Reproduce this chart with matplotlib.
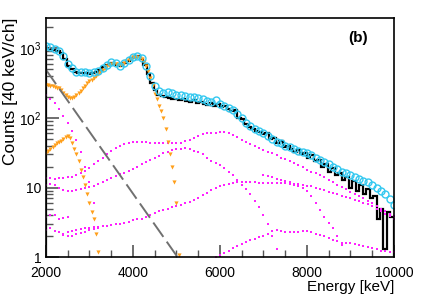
import numpy as np
import matplotlib.pyplot as plt
from matplotlib.ticker import FixedLocator, FixedFormatter, NullFormatter

# total fit (cyan circles), 100 keV steps from 2000
e_fit = np.arange(2000, 10001, 100)
fit = [1090, 1050, 960, 920, 780, 600, 520, 460, 450, 450,
       440, 450, 470, 520, 580, 630, 610, 560, 620, 680,
       760, 780, 730, 560, 400, 290, 240, 230, 235, 225,
       215, 210, 205, 200, 198, 195, 185, 175, 172, 178,
       160, 150, 140, 128, 115, 100, 85, 76, 70, 66,
       60, 55, 50, 45, 43, 40, 38, 36, 34, 32,
       31, 29, 27, 25, 23, 21.5, 20, 18.5, 17, 16,
       15, 14, 13.5, 12.5, 12, 11, 10, 9, 8, 6.8, 5.6]

# measured spectrum (black), 80 keV bins
e_edges = np.arange(2000, 10001, 80)
data = [1000, 990, 940, 910, 840, 700, 560, 500, 460, 445,
        440, 445, 430, 445, 460, 490, 540, 580, 620, 600,
        570, 560, 610, 660, 730, 760, 770, 700, 580, 430,
        320, 250, 215, 205, 200, 195, 190, 185, 180, 185,
        175, 170, 180, 165, 170, 160, 155, 165, 150, 160,
        145, 150, 135, 125, 130, 100, 95, 82, 75, 70,
        66, 62, 58, 60, 50, 52, 44, 46, 38, 40,
        36, 33, 35, 30, 31, 27, 29, 24, 25, 20,
        22, 17, 19, 15, 16, 13, 14, 10, 12.5, 9,
        11, 8, 9.5, 7, 7.5, 3.5, 5, 1.3, 4.5, 3.8]

# orange components
e_o1 = np.arange(2000, 5051, 50)
o1 = [295, 292, 290, 285, 280, 272, 265, 248, 230, 215,
      200, 196, 195, 200, 210, 225, 240, 265, 290, 315,
      340, 355, 370, 395, 420, 455, 490, 525, 560, 575,
      590, 595, 600, 590, 580, 600, 620, 650, 680, 710,
      740, 750, 760, 730, 700, 630, 560, 470, 380, 300,
      220, 185, 150, 125, 100, 70, 45, 30, 20, 12, 6, 1.1]
e_o2 = np.arange(2000, 3201, 50)
o2 = [31, 34, 36, 38, 41, 43, 45, 47, 50, 53,
      56, 52, 43, 36, 30, 24, 18, 14, 11, 8,
      6, 4.5, 3.5, 2.2, 1.2]

# magenta components
e_ma = np.arange(2000, 3101, 100)
ma = [213, 190, 162, 135, 108, 85, 65, 48, 33, 20, 12, 6]

e_mb = np.arange(2000, 10001, 100)
mb = [13.6, 13.6, 13.5, 13.6, 13.8, 14, 14.3, 15, 16, 17.5,
      19, 21.5, 24, 27, 30, 33.5, 37, 40, 42, 44,
      45, 45.5, 45.5, 45, 44, 43.5, 43, 43, 43, 43,
      43.5, 44, 46, 49, 52, 56, 59, 61, 61, 61,
      62, 62, 61, 57, 53, 49, 45, 42, 39, 37,
      35, 33, 31, 29, 27, 25.5, 24, 22.5, 21, 19.5,
      18, 17, 16, 15, 14, 13, 12, 11, 10.2, 9.5,
      8.8, 8.2, 7.6, 7, 6.5, 6, 5.5, 5, 4.6, 4.2, 3.9]

e_mc = np.arange(2000, 7301, 100)
mc = [10.9, 11.4, 11, 10, 9.3, 9, 9.1, 9.2, 9.5, 9.8,
      10.2, 10.6, 11.2, 12, 12.8, 13.8, 14.9, 15.6, 16.5, 17.5,
      18.8, 20, 21.6, 23.3, 25, 27, 28.8, 31, 33, 34.5,
      35.4, 36, 36.6, 36, 34, 32, 30, 27, 24.5, 22.5,
      21, 19, 17, 15, 13, 11, 9.5, 8, 6.5, 5.2,
      4, 3, 2, 1.3]

e_md = np.arange(2000, 10001, 100)
md = [2.5, 2.6, 2.4, 2.3, 2.2, 2.3, 2.4, 2.5, 2.55, 2.6,
      2.65, 2.7, 2.75, 2.8, 2.85, 2.95, 3.0, 3.05, 3.1, 3.25,
      3.4, 3.5, 3.6, 3.8, 4.0, 4.3, 4.6, 4.8, 5.0, 5.2,
      5.4, 5.6, 6.0, 6.3, 6.7, 7.2, 7.8, 8.5, 9.2, 10,
      10.5, 11, 11.4, 11.8, 12, 12.2, 12.2, 12.2, 12, 11.8,
      11.6, 11.5, 11.5, 11.5, 11.5, 11.5, 11.4, 11.3, 11.2, 11,
      10.7, 10.4, 10, 9.6, 9.2, 8.8, 8.4, 8, 7.6, 7.3,
      7, 6.7, 6.4, 6.1, 5.8, 5.4, 5, 4.6, 4.2, 3.9, 3.6]

e_me = np.arange(2400, 3201, 100)
me = [2.1, 2.0, 2.05, 2.15, 2.25, 2.35, 2.45, 2.55, 2.65]

e_mf = np.arange(2000, 2501, 100)
mf = [3.8, 4.1, 4.0, 3.6, 3.7, 3.8]

e_mg = np.arange(5900, 10001, 100)
mg = [1.0, 1.08, 1.15, 1.25, 1.35, 1.45, 1.55, 1.65, 1.75, 1.85,
      1.95, 2.05, 2.2, 2.4, 2.5, 2.4, 2.3, 2.3, 2.3, 2.35,
      2.4, 2.4, 2.3, 2.2, 2.1, 2.0, 1.9, 1.8, 1.7, 1.6,
      1.6, 1.6, 1.55, 1.5, 1.45, 1.4, 1.35, 1.3, 1.25, 1.22,
      1.2, 1.2]

e_mh = np.arange(7000, 8801, 100)
mh = [15, 14.5, 14, 13.5, 13, 12.5, 12, 11, 10.5, 10,
      9, 7.5, 6, 4.8, 3.8, 3.1, 2.6, 2, 1.5]

# exponential background (grey dashed)
e_bg = [2000, 5030]
bg = [490, 1]

plt.rcParams['font.family'] = ['Liberation Sans', 'DejaVu Sans']
plt.rcParams['mathtext.fontset'] = 'custom'
plt.rcParams['mathtext.rm'] = 'Liberation Sans'

fig = plt.figure(figsize=(4.36, 3.0), dpi=100)
ax = fig.add_axes([0.1055, 0.142, 0.798, 0.798])

mag = '#ff22ff'
for e, v in [(e_ma, ma), (e_mb, mb), (e_mc, mc), (e_md, md), (e_me, me),
             (e_mf, mf), (e_mg, mg), (e_mh, mh)]:
    ax.plot(e, v, ls='none', marker='s', ms=2.0, color=mag, mew=0)

orange = '#ff9f1a'
ax.plot(e_o1, o1, ls='none', marker='v', ms=3.0, color=orange, mew=0)
ax.plot(e_o2, o2, ls='none', marker='v', ms=3.0, color=orange, mew=0)

ax.plot(e_bg, bg, color='#707070', lw=1.4, dashes=(9, 3))

ax.stairs(data, e_edges, color='black', lw=1.6)
ax.plot(e_fit, fit, ls='none', marker='o', ms=5, mfc='none', mec='#33c8f0', mew=1.0)

ax.set_yscale('log')
ax.set_xlim(2000, 10000)
ax.set_ylim(1, 2712)

ax.xaxis.set_major_locator(FixedLocator([2000, 4000, 6000, 8000, 10000]))
ax.xaxis.set_minor_locator(FixedLocator(np.arange(2000, 10001, 500)))
ax.yaxis.set_major_locator(FixedLocator([1, 10, 100, 1000]))
ax.yaxis.set_major_formatter(FixedFormatter(['1', '10', r'$10^2$', r'$10^3$']))
ax.yaxis.set_minor_formatter(NullFormatter())
ax.tick_params(which='both', direction='in', top=False, right=False,
               labelsize=10, color='#555555')
ax.tick_params(axis='x', pad=6)
ax.tick_params(axis='y', pad=3)
ax.tick_params(which='major', length=9, width=1.2)
ax.tick_params(which='minor', length=5, width=1.0)
for s in ax.spines.values():
    s.set_linewidth(1.2)

ax.set_xlabel('Energy [keV]', fontsize=11, loc='right', labelpad=0)
ax.set_ylabel('Counts [40 keV/ch]', fontsize=12.5, loc='top')
ax.yaxis.set_label_coords(-0.08, 1.0)
ax.text(0.897, 0.916, '(b)', transform=ax.transAxes, fontsize=11,
        fontweight='bold', ha='center', va='center')

fig.savefig('out.png', dpi=100)
